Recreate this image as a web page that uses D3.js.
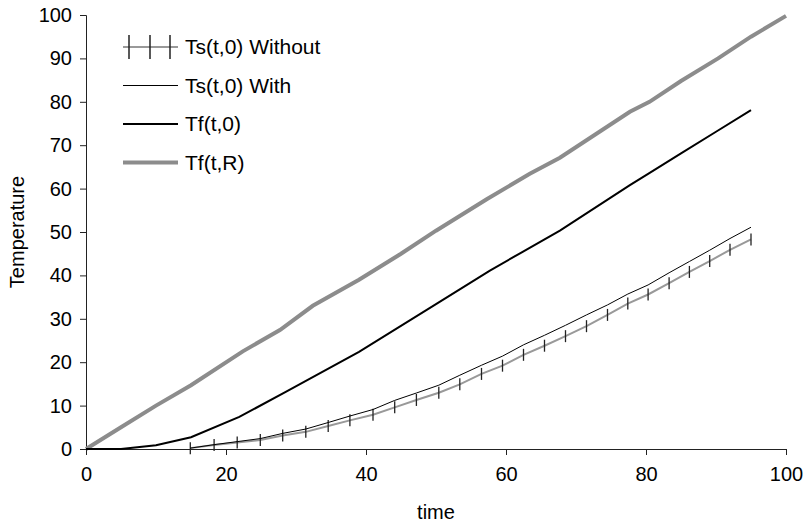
<!DOCTYPE html>
<html>
<head>
<meta charset="utf-8">
<script src="https://cdn.jsdelivr.net/npm/d3@7"></script>
<style>
  body { margin: 0; background: #fff; }
  text { font-family: "Liberation Sans", Arial, sans-serif; fill: #000; }
</style>
</head>
<body>
<svg id="chart" width="807" height="524"></svg>
<script>
// Ts(t,0) Without / With share the same time points
const tsTime = [14.9, 18.3, 21.6, 24.9, 28.1, 31.4, 34.6, 37.7, 41.0, 44.1, 47.2, 50.4, 53.4, 56.5,
  59.5, 62.5, 65.5, 68.5, 71.5, 74.5, 77.4, 80.3, 83.3, 86.2, 89.1, 92.0, 95.0];
const tsWithout = [0.2, 0.9, 1.5, 2.05, 3.1, 3.95, 5.3, 6.6, 7.9, 9.6, 11.3, 12.97, 14.9, 17.3,
  19.2, 21.7, 23.8, 26.0, 28.3, 30.9, 33.5, 35.6, 38.2, 40.8, 43.3, 45.9, 48.3];
const tsWith = [0.2, 1.0, 1.7, 2.4, 3.6, 4.6, 6.1, 7.6, 9.1, 11.2, 12.9, 14.7, 17.0, 19.3,
  21.4, 24.0, 26.2, 28.5, 30.9, 33.2, 35.7, 37.8, 40.6, 43.2, 45.8, 48.5, 51.1];

const tf0Time = [0, 5, 10, 15, 21.9, 28.6, 39, 50, 57.7, 62, 67.7, 77.7, 80.3, 85, 90, 95];
const tf0 = [0, 0, 0.85, 2.7, 7.4, 13.2, 22.4, 33.4, 41.1, 45.1, 50.3, 60.8, 63.4, 68.1, 73.1, 78.1];

const tfRTime = [0, 5, 10, 15, 22.4, 27.7, 32.4, 39, 45, 50, 57.3, 63.4, 67.7, 77.7, 80.5, 85, 90.3, 95, 100];
const tfR = [0, 5, 10, 14.7, 22.5, 27.4, 33, 39, 45, 50.3, 57.6, 63.4, 67.1, 77.7, 80, 84.8, 90, 95, 99.8];

const xTicks = [0, 20, 40, 60, 80, 100];
const yTicks = [0, 10, 20, 30, 40, 50, 60, 70, 80, 90, 100];

const legendItems = ["Ts(t,0) Without", "Ts(t,0) With", "Tf(t,0)", "Tf(t,R)"];

const margin = {left: 86, right: 21, top: 15, bottom: 75};
const width = 807 - margin.left - margin.right;
const height = 524 - margin.top - margin.bottom;

const svg = d3.select("#chart");
const g = svg.append("g").attr("transform", `translate(${margin.left},${margin.top})`);

const x = d3.scaleLinear().domain([0, 100]).range([0, width]);
const y = d3.scaleLinear().domain([0, 100]).range([height, 0]);

// axes
const xAxis = g.append("g")
  .attr("transform", `translate(0,${height})`)
  .call(d3.axisBottom(x).tickValues(xTicks).tickSize(6).tickPadding(12));
const yAxis = g.append("g")
  .call(d3.axisLeft(y).tickValues(yTicks).tickSize(6).tickPadding(8));
[xAxis, yAxis].forEach(a => {
  a.select(".domain").attr("stroke", "#222");
  a.selectAll(".tick line").attr("stroke", "#222");
  a.selectAll(".tick text").style("font-size", "20px").attr("fill", "#000");
});

g.append("text")
  .attr("x", width / 2)
  .attr("y", height + 70)
  .attr("text-anchor", "middle")
  .style("font-size", "20px")
  .text("time");

g.append("text")
  .attr("transform", `translate(${-62},${height / 2}) rotate(-90)`)
  .attr("text-anchor", "middle")
  .style("font-size", "20px")
  .text("Temperature");

const line = d3.line().x(d => x(d[0])).y(d => y(d[1]));

// Tf(t,R)
g.append("path")
  .datum(d3.zip(tfRTime, tfR))
  .attr("d", line)
  .attr("fill", "none")
  .attr("stroke", "#8c8c8c")
  .attr("stroke-width", 4);

// Tf(t,0)
g.append("path")
  .datum(d3.zip(tf0Time, tf0))
  .attr("d", line)
  .attr("fill", "none")
  .attr("stroke", "#000")
  .attr("stroke-width", 2);

// Ts(t,0) Without
g.append("path")
  .datum(d3.zip(tsTime, tsWithout))
  .attr("d", line)
  .attr("fill", "none")
  .attr("stroke", "#999")
  .attr("stroke-width", 2);

g.selectAll(".mark")
  .data(d3.zip(tsTime, tsWithout))
  .enter()
  .append("line")
  .attr("class", "mark")
  .attr("x1", d => x(d[0]))
  .attr("x2", d => x(d[0]))
  .attr("y1", d => y(d[1]) - 6)
  .attr("y2", d => y(d[1]) + 6)
  .attr("stroke", "#222")
  .attr("stroke-width", 1.3);

// Ts(t,0) With
g.append("path")
  .datum(d3.zip(tsTime, tsWith))
  .attr("d", line)
  .attr("fill", "none")
  .attr("stroke", "#000")
  .attr("stroke-width", 1);

// legend
const leg = svg.append("g").attr("transform", "translate(123,47)");
const styles = [
  {stroke: "#999", w: 2},
  {stroke: "#000", w: 1},
  {stroke: "#000", w: 2},
  {stroke: "#8c8c8c", w: 4}
];
legendItems.forEach((name, i) => {
  const row = leg.append("g").attr("transform", `translate(0,${i * 38.5})`);
  row.append("line")
    .attr("x1", 0).attr("x2", 55).attr("y1", 0).attr("y2", 0)
    .attr("stroke", styles[i].stroke)
    .attr("stroke-width", styles[i].w);
  if (i === 0) {
    [6, 27, 47].forEach(px => {
      row.append("line")
        .attr("x1", px).attr("x2", px).attr("y1", -12).attr("y2", 12)
        .attr("stroke", "#222").attr("stroke-width", 1.5);
    });
  }
  row.append("text")
    .attr("x", 62)
    .attr("y", 0)
    .attr("dy", "0.35em")
    .style("font-size", "21px")
    .text(name);
});
</script>
</body>
</html>
